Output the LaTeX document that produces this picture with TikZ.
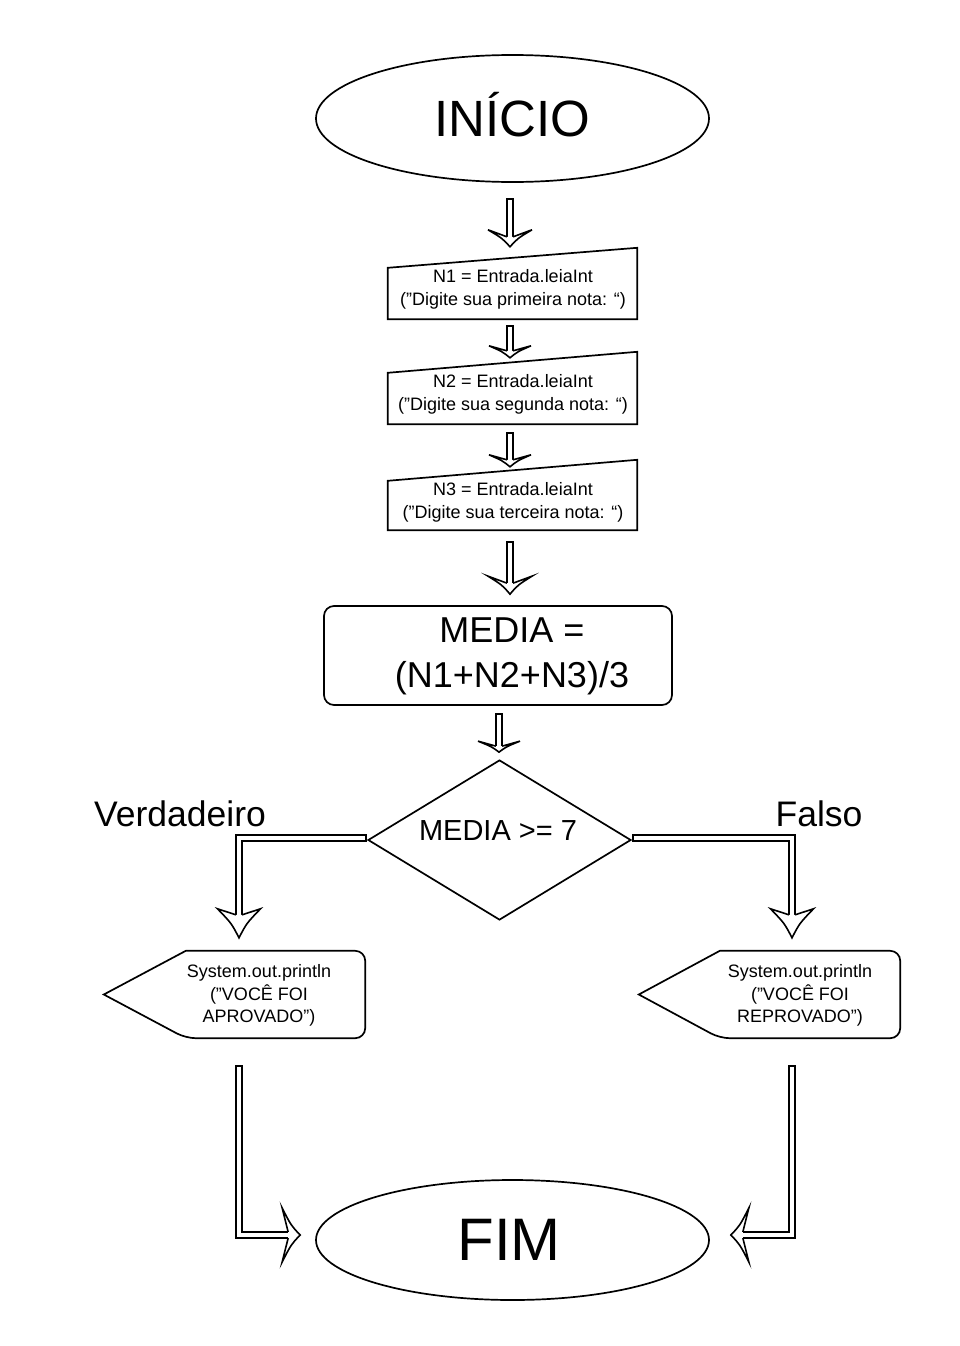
\documentclass[tikz,border=0pt]{standalone}
\usepackage{fontspec}
\setmainfont{Liberation Sans}
\usetikzlibrary{shapes.geometric,calc}
\tikzset{
 shp/.style={draw=black, line width=1.7pt, line join=miter},
 shaft/.style={draw=black, line width=1.6pt, double=white, double distance=4.6pt, line cap=rect, line join=miter},
 headline/.style={draw=black, line width=1.6pt, line join=miter},
 anchorbox/.style={rectangle, inner sep=0pt, draw=none},
 txt/.style={inner sep=0pt, align=center, font=\fontsize{18pt}{23pt}\selectfont},
 disptxt/.style={inner sep=0pt, align=center, font=\fontsize{18pt}{22.5pt}\selectfont},
 bigtxt/.style={inner sep=0pt, align=center, font=\fontsize{36pt}{45pt}\selectfont},
}
\def\arrhs{3.1}
\newcommand\fhead[5]{%
 \begin{scope}[shift={(#1)},rotate=#2]
  \fill[white] (0,0) .. controls ({-0.5*#3},{0.35*#4}) .. ({-#3},{#4}) -- ({-#3+#5},\arrhs) -- ({-#3+#5},-\arrhs) -- ({-#3},{-#4}) .. controls ({-0.5*#3},{-0.35*#4}) .. (0,0) -- cycle;
  \draw[headline] ({-#3+#5},\arrhs) -- ({-#3},{#4}) .. controls ({-0.5*#3},{0.35*#4}) .. (0,0) .. controls ({-0.5*#3},{-0.35*#4}) .. ({-#3},{-#4}) -- ({-#3+#5},-\arrhs);
 \end{scope}}
\begin{document}
\begin{tikzpicture}[x=1pt,y=-1pt]
\useasboundingbox (0,0) rectangle (960,1346);
\fill[white] (0,0) rectangle (960,1346);

% start
\node[ellipse, shp, minimum width=393pt, minimum height=127pt, inner sep=0pt, text height=36.5pt, text depth=0pt, font=\fontsize{51pt}{60pt}\selectfont] (ini) at (512.5,118.5) {INÍCIO};

% inputs
\node[anchorbox, minimum width=249pt, minimum height=71pt] (in1) at (512.5,283.5) {};
\draw[shp] (in1.south west) -- (in1.south east) -- (in1.north east) -- ([yshift=-20pt]in1.north west) -- cycle;
\node[txt] (in1t) at (513,289.5) {N1 = Entrada.leiaInt\\(”Digite sua primeira nota: “)};

\node[anchorbox, minimum width=249pt, minimum height=72pt] (in2) at (512.5,388) {};
\draw[shp] (in2.south west) -- (in2.south east) -- (in2.north east) -- ([yshift=-21pt]in2.north west) -- cycle;
\node[txt] (in2t) at (513,394.5) {N2 = Entrada.leiaInt\\(”Digite sua segunda nota: “)};

\node[anchorbox, minimum width=249pt, minimum height=70pt] (in3) at (512.5,495) {};
\draw[shp] (in3.south west) -- (in3.south east) -- (in3.north east) -- ([yshift=-21pt]in3.north west) -- cycle;
\node[txt] (in3t) at (513,502.5) {N3 = Entrada.leiaInt\\(”Digite sua terceira nota: “)};

% process
\node[shp, rectangle, rounded corners=10pt, minimum width=348pt, minimum height=99pt, inner sep=0pt] (media) at (498,655.5) {};
\node[bigtxt] (mediat) at (512,656) {MEDIA =\\(N1+N2+N3)/3};

% decision
\node[diamond, shp, fill=white, minimum width=263pt, minimum height=160pt, inner sep=0pt] (dec) at (499.5,840) {};
\node[inner sep=0pt, font=\fontsize{29pt}{35pt}\selectfont] (dect) at (498,831) {MEDIA >= 7};
\node[inner sep=0pt, font=\fontsize{35.5pt}{42pt}\selectfont] (vlab) at (180,814) {Verdadeiro};
\node[inner sep=0pt, font=\fontsize{35.5pt}{42pt}\selectfont] (flab) at (819,814) {Falso};

% displays
\node[anchorbox, minimum width=261pt, minimum height=87pt] (out1) at (234.5,994.5) {};
\draw[shp] (out1.west) -- ([xshift=82pt]out1.north west) [rounded corners=10pt] -- (out1.north east) -- (out1.south east) -- ([xshift=82pt]out1.south west) [sharp corners] -- cycle;
\node[disptxt] (out1t) at (259,995.5) {System.out.println\\(”VOCÊ FOI\\APROVADO”)};

\node[anchorbox, minimum width=261pt, minimum height=87pt] (out2) at (769.5,994.5) {};
\draw[shp] (out2.west) -- ([xshift=81pt]out2.north west) [rounded corners=10pt] -- (out2.north east) -- (out2.south east) -- ([xshift=81pt]out2.south west) [sharp corners] -- cycle;
\node[disptxt] (out2t) at (800,995.5) {System.out.println\\(”VOCÊ FOI\\REPROVADO”)};

% end
\node[ellipse, shp, minimum width=393pt, minimum height=120pt, inner sep=0pt] (fim) at (512.5,1240) {};
\node[inner sep=0pt, font=\fontsize{60pt}{70pt}\selectfont, text height=43pt, text depth=0pt] (fimt) at (509,1238.5) {FIM};

% arrow coordinates
\coordinate (a1s) at ($(ini.south)+(-2.5,19)$);
\coordinate (a1t) at ($(in1.north)+(-2.5,-1)$);
\coordinate (a1e) at ($(a1t)+(0,-11)$);
\coordinate (a2s) at ($(in1.south)+(-2.5,10)$);
\coordinate (a2t) at ($(in2.north)+(-2.5,6)$);
\coordinate (a2e) at ($(a2t)+(0,-8)$);
\coordinate (a3s) at ($(in2.south)+(-2.5,12)$);
\coordinate (a3t) at ($(in3.north)+(-2.5,7)$);
\coordinate (a3e) at ($(a3t)+(0,-8)$);
\coordinate (a4s) at ($(in3.south)+(-2.5,15)$);
\coordinate (a4t) at ($(media.north)+(12,-11)$);
\coordinate (a4e) at ($(a4t)+(0,-12)$);
\coordinate (a5s) at ($(media.south)+(1,11)$);
\coordinate (a5t) at ($(dec.north)+(-0.5,-7)$);
\coordinate (a5e) at ($(a5t)+(0,-7)$);
\coordinate (bls) at ($(dec.west)+(-4,-2)$);
\coordinate (blt) at ($(out1.north)+(4.5,-13)$);
\coordinate (ble) at ($(blt)+(0,-24)$);
\coordinate (brs) at ($(dec.east)+(4,-2)$);
\coordinate (brt) at ($(out2.north)+(22.5,-13)$);
\coordinate (bre) at ($(brt)+(0,-24)$);
\coordinate (cls) at ($(out1.south)+(4.5,31)$);
\coordinate (clt) at ($(fim.west)+(-15,-5)$);
\coordinate (cle) at ($(clt)+(-13,0)$);
\coordinate (crs) at ($(out2.south)+(22.5,31)$);
\coordinate (crt) at ($(fim.east)+(21,-5)$);
\coordinate (cre) at ($(crt)+(13,0)$);

% shafts
\draw[shaft] (a1s) -- (a1e);
\draw[shaft] (a2s) -- (a2e);
\draw[shaft] (a3s) -- (a3e);
\draw[shaft] (a4s) -- (a4e);
\draw[shaft] (a5s) -- (a5e);
\draw[shaft] (bls) -| (ble);
\draw[shaft] (brs) -| (bre);
\draw[shaft] (cls) |- (cle);
\draw[shaft] (crs) |- (cre);

% heads
\fhead{a1t}{-90}{17}{22}{7}
\fhead{a2t}{-90}{12}{21}{5}
\fhead{a3t}{-90}{12}{21}{5}
\fhead{a4t}{-90}{18}{22}{7}
\fhead{a5t}{-90}{11}{21}{5}
\fhead{blt}{-90}{29}{21.5}{6}
\fhead{brt}{-90}{29}{21.5}{6}
\fhead{clt}{0}{18}{27}{6}
\fhead{crt}{180}{18}{27}{6}
\end{tikzpicture}
\end{document}
